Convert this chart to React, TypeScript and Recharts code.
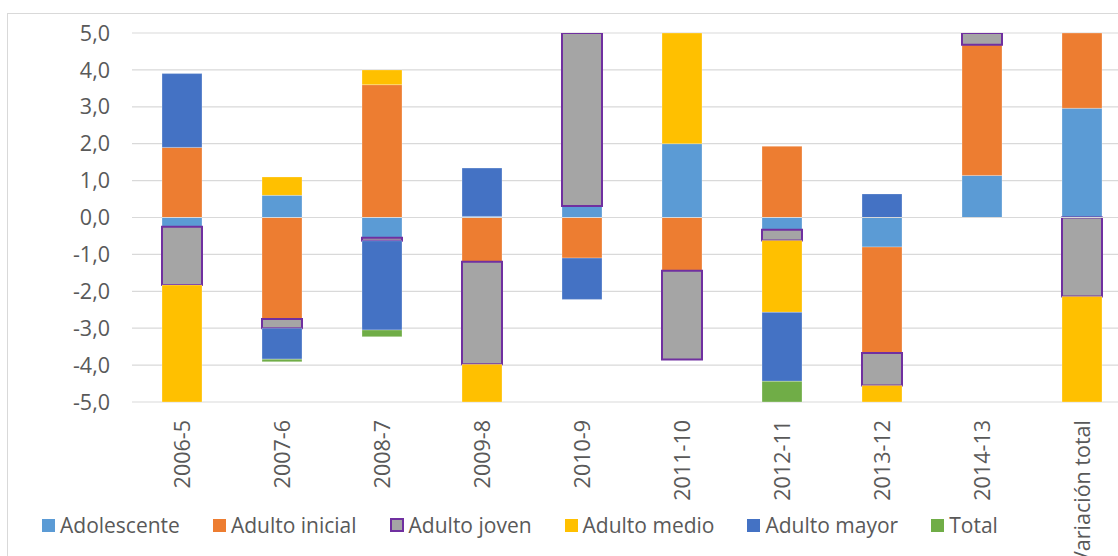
import { BarChart, Bar, XAxis, YAxis, CartesianGrid, ReferenceLine } from 'recharts';

const categories = ['2006-5', '2007-6', '2008-7', '2009-8', '2010-9', '2011-10', '2012-11', '2013-12', '2014-13', 'Variación total'];

const adolescente = [-0.25, 0.6, -0.55, 0.03, 0.31, 2.0, -0.33, -0.8, 1.14, 2.96];
const adultoInicial = [1.9, -2.75, 3.6, -1.2, -1.1, -1.44, 1.93, -2.87, 3.54, 2.6];
const adultoJoven = [-1.58, -0.25, -0.08, -2.78, 5.2, -2.41, -0.29, -0.88, 0.6, -2.14];
const adultoMedio = [-3.6, 0.5, 0.4, -1.6, 0.9, 3.3, -1.95, -0.9, 0.8, -4.2];
const adultoMayor = [2.0, -0.84, -2.42, 1.31, -1.12, 0.7, -1.87, 0.64, 0.5, 1.1];
const total = [-1.5, -0.07, -0.18, -0.9, 0.4, 1.2, -0.6, -0.5, 0.3, 1.0];

const yTicks = [-5, -4, -3, -2, -1, 0, 1, 2, 3, 4, 5];

const series = [
  { key: 'adolescente', name: 'Adolescente', color: '#5B9BD5' },
  { key: 'adultoInicial', name: 'Adulto inicial', color: '#ED7D31' },
  { key: 'adultoJoven', name: 'Adulto joven', color: '#A5A5A5', border: '#7030A0' },
  { key: 'adultoMedio', name: 'Adulto medio', color: '#FFC000' },
  { key: 'adultoMayor', name: 'Adulto mayor', color: '#4472C4' },
  { key: 'total', name: 'Total', color: '#70AD47' },
];

const data = categories.map((c, i) => ({
  name: c,
  adolescente: adolescente[i],
  adultoInicial: adultoInicial[i],
  adultoJoven: adultoJoven[i],
  adultoMedio: adultoMedio[i],
  adultoMayor: adultoMayor[i],
  total: total[i],
}));

const FONT = "'Open Sans', sans-serif";
const TEXT = '#595959';

const fmt = (v: number) => v.toFixed(1).replace('.', ',');

// category labels read bottom-to-top, ending just under the plot
function XTick({ x, y, payload }: any) {
  return (
    <text
      x={x}
      y={y}
      dy="0.35em"
      transform={`rotate(-90 ${x} ${y})`}
      textAnchor="end"
      fill={TEXT}
      fontSize={21.5}
      fontFamily={FONT}
    >
      {payload.value}
    </text>
  );
}

export default function App() {
  return (
    <div style={{ position: 'fixed', left: 0, top: 0, width: 1118, height: 556, overflow: 'hidden', background: '#fff' }}>
      <div
        style={{
          position: 'absolute',
          left: 7,
          top: 13,
          width: 1200,
          height: 600,
          border: '1px solid #d9d9d9',
        }}
      />
      <div style={{ position: 'absolute', left: 0, top: 0 }}>
        <BarChart
          width={1132}
          height={556}
          data={data}
          stackOffset="sign"
          barCategoryGap="30%"
          margin={{ top: 33, right: 0, bottom: 0, left: 0 }}
        >
          <CartesianGrid vertical={false} stroke="#d9d9d9" strokeWidth={1.2} />
          <XAxis
            dataKey="name"
            axisLine={false}
            tickLine={false}
            tickSize={0}
            tickMargin={18}
            height={154}
            interval={0}
            tick={<XTick />}
          />
          <YAxis
            type="number"
            domain={[-5, 5]}
            ticks={yTicks}
            allowDataOverflow
            width={132}
            axisLine={false}
            tickLine={false}
            tickSize={0}
            tickMargin={22}
            tickFormatter={fmt}
            tick={{ fill: TEXT, fontSize: 21.5, fontFamily: FONT }}
          />
          {series.map((s) => (
            <Bar
              key={s.key}
              dataKey={s.key}
              name={s.name}
              stackId="a"
              fill={s.color}
              stroke={s.border ?? '#ffffff'}
              strokeOpacity={s.border ? 1 : 0.35}
              strokeWidth={s.border ? 2 : 0.8}
              isAnimationActive={false}
            />
          ))}
          <ReferenceLine y={0} stroke="#d9d9d9" strokeWidth={1.2} />
        </BarChart>
      </div>
      <div
        style={{
          position: 'absolute',
          left: 42,
          top: 511,
          display: 'flex',
          alignItems: 'center',
          gap: 33,
          fontFamily: FONT,
          fontSize: 21,
          color: TEXT,
          whiteSpace: 'nowrap',
        }}
      >
        {series.map((s) => (
          <div key={s.key} style={{ display: 'flex', alignItems: 'center' }}>
            <span
              style={{
                display: 'inline-block',
                width: s.border ? 10 : 13,
                height: s.border ? 10 : 13,
                background: s.color,
                border: s.border ? `2px solid ${s.border}` : 'none',
                marginRight: 5,
              }}
            />
            <span>{s.name}</span>
          </div>
        ))}
      </div>
    </div>
  );
}
